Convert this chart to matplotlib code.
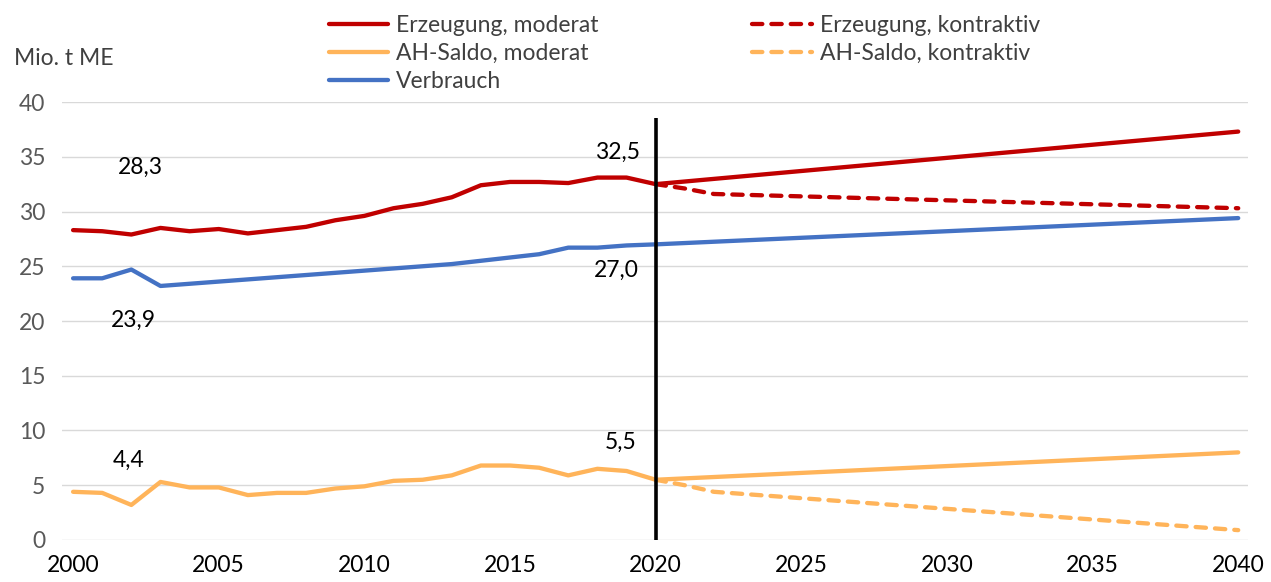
import matplotlib.pyplot as plt
import numpy as np

plt.rcParams['font.family'] = ['Lato', 'DejaVu Sans']

# Erzeugung, AH-Saldo, Verbrauch 2000-2020 (Mio. t ME)
years_hist = list(range(2000, 2021))
erzeugung = [28.3, 28.2, 27.9, 28.5, 28.2, 28.4, 28.0, 28.3, 28.6, 29.2, 29.6,
             30.3, 30.7, 31.3, 32.4, 32.7, 32.7, 32.6, 33.1, 33.1, 32.5]
ah_saldo = [4.4, 4.3, 3.2, 5.3, 4.8, 4.8, 4.1, 4.3, 4.3, 4.7, 4.9,
            5.4, 5.5, 5.9, 6.8, 6.8, 6.6, 5.9, 6.5, 6.3, 5.5]
verbrauch_hist = [23.9, 23.9, 24.7, 23.2, 23.4, 23.6, 23.8, 24.0, 24.2, 24.4, 24.6,
                  24.8, 25.0, 25.2, 25.5, 25.8, 26.1, 26.7, 26.7, 26.9, 27.0]

# Projektionen
years_mod = [2020, 2040]
erz_moderat = [32.5, 37.3]
ah_moderat = [5.5, 8.0]
verbrauch_proj = [27.0, 29.4]

years_kon = [2020, 2021, 2022, 2040]
erz_kontraktiv = [32.5, 32.1, 31.6, 30.3]
ah_kontraktiv = [5.5, 5.0, 4.4, 0.9]

divider_year = 2020
divider_top = 38.5

RED = '#C00000'
ORANGE = '#FFB45A'
BLUE = '#4472C4'
FS = 16.5

fig = plt.figure(figsize=(12.71, 5.82), dpi=100)
ax = fig.add_axes([0.0488, 0.0722, 0.9332, 0.7525])

lw = 3.1
dash = (2.4, 2.1)

ax.plot(years_kon, erz_kontraktiv, color=RED, lw=lw, dashes=dash,
        dash_capstyle='round', label='Erzeugung, kontraktiv', zorder=3)
ax.plot(years_kon, ah_kontraktiv, color=ORANGE, lw=lw, dashes=dash,
        dash_capstyle='round', label='AH-Saldo, kontraktiv', zorder=3)

ax.plot(years_hist + years_mod[1:], erzeugung + erz_moderat[1:], color=RED, lw=lw,
        solid_capstyle='round', label='Erzeugung, moderat', zorder=4)
ax.plot(years_hist + years_mod[1:], ah_saldo + ah_moderat[1:], color=ORANGE, lw=lw,
        solid_capstyle='round', label='AH-Saldo, moderat', zorder=4)
ax.plot(years_hist + years_mod[1:], verbrauch_hist + verbrauch_proj[1:], color=BLUE, lw=lw,
        solid_capstyle='round', label='Verbrauch', zorder=4)

ax.plot([divider_year, divider_year], [0, divider_top], color='black', lw=2.6,
        solid_capstyle='butt', zorder=5)

# Beschriftungen
labels = [(2002.3, 34.0, '28,3'), (2002.06, 20.1, '23,9'),
          (2018.7, 35.4, '32,5'), (2018.66, 24.6, '27,0'),
          (2001.9, 7.3, '4,4'), (2018.8, 8.9, '5,5')]
for x, y, t in labels:
    ax.text(x, y, t, ha='center', va='center', fontsize=FS, color='black')

ax.set_xlim(1999.62, 2040.34)
ax.set_ylim(0, 40)
ax.set_xticks(range(2000, 2041, 5))
ax.set_yticks(range(0, 41, 5))
ax.yaxis.grid(True, color='#D9D9D9', lw=1.0)
ax.set_axisbelow(True)
for s in ax.spines.values():
    s.set_visible(False)
ax.tick_params(axis='both', length=0, labelsize=FS)
ax.tick_params(axis='y', colors='#595959', pad=12)
ax.tick_params(axis='x', labelcolor='black', pad=11)

fig.text(0.011, 0.9, 'Mio. t ME', fontsize=FS, color='#404040', va='center')

h = ax.get_legend_handles_labels()
handles = dict(zip(h[1], h[0]))
order = ['Erzeugung, moderat', 'AH-Saldo, moderat', 'Verbrauch',
         'Erzeugung, kontraktiv', 'AH-Saldo, kontraktiv']
fig.legend([handles[k] for k in order], order, ncol=2, frameon=False,
           loc='upper left', bbox_to_anchor=(0.247, 1.0), fontsize=FS,
           handlelength=2.6, handletextpad=0.35, columnspacing=6.7,
           labelspacing=0.31, borderpad=0.15, labelcolor='#404040')

fig.savefig('out.png', dpi=100)
